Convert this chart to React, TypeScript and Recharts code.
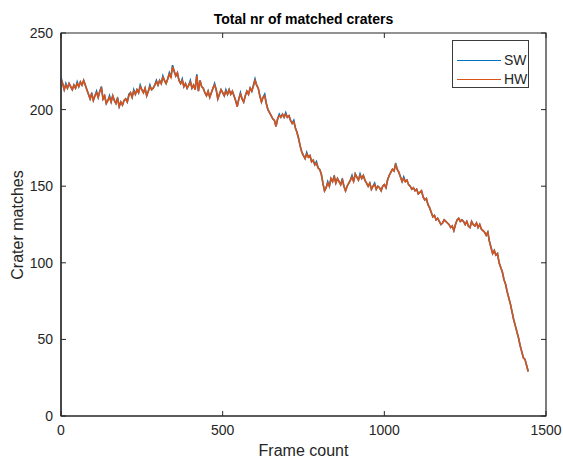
import { LineChart, Line, XAxis, YAxis, ReferenceArea } from "recharts";

// frame counts are sampled every 5 frames
const FRAME_STEP = 5;

const hwMatches = [
  220, 217, 213, 216, 214, 217, 215, 213, 216, 214, 217, 215, 218, 216, 219, 216, 213, 210, 207, 210,
  206, 209, 211, 208, 212, 214, 207, 209, 204, 206, 208, 205, 209, 206, 204, 207, 202, 205, 203, 206,
  207, 205, 209, 211, 208, 212, 210, 213, 211, 215, 213, 211, 214, 209, 212, 215, 213, 214, 216, 218,
  216, 219, 217, 221, 219, 217, 220, 223, 221, 228, 225, 222, 224, 219, 217, 219, 215, 217, 214, 216,
  218, 214, 216, 213, 222, 212, 219, 215, 214, 211, 209, 212, 208, 211, 214, 216, 213, 207, 210, 213,
  211, 209, 212, 210, 213, 210, 212, 209, 206, 202, 207, 210, 207, 205, 209, 212, 210, 214, 212, 215,
  219, 216, 214, 209, 205, 208, 209, 204, 200, 198, 196, 194, 193, 189, 194, 196, 195, 197, 195, 197,
  195, 196, 193, 191, 192, 188, 185, 181, 176, 172, 170, 168, 171, 169, 170, 166, 167, 164, 165, 162,
  161, 158, 152, 147, 149, 152, 150, 155, 153, 156, 152, 155, 153, 151, 154, 150, 147, 150, 152, 154,
  156, 153, 158, 156, 154, 157, 155, 157, 154, 152, 150, 152, 148, 150, 151, 148, 150, 149, 147, 150,
  151, 149, 154, 157, 159, 161, 160, 164, 161, 159, 156, 153, 155, 153, 154, 151, 150, 148, 149, 147,
  148, 145, 146, 147, 143, 141, 142, 138, 136, 133, 130, 131, 128, 129, 127, 125, 126, 128, 127, 126,
  125, 123, 124, 121, 125, 128, 129, 127, 128, 127, 125, 127, 124, 123, 127, 125, 124, 126, 123, 125,
  122, 121, 120, 118, 120, 114, 110, 106, 108, 105, 106, 100, 97, 94, 89, 86, 81, 77, 73, 68,
  63, 59, 55, 51, 46, 42, 38, 37, 33, 29,
];

const swMatches = [
  221, 217, 213, 217, 214, 217, 215, 213, 216, 214, 218, 215, 218, 216, 219, 216, 213, 210, 207, 211,
  206, 209, 212, 208, 212, 215, 207, 209, 204, 206, 209, 205, 209, 206, 204, 208, 202, 205, 203, 206,
  207, 205, 210, 211, 208, 213, 210, 213, 211, 216, 213, 211, 214, 209, 212, 216, 213, 214, 216, 219,
  216, 219, 217, 222, 219, 217, 220, 224, 221, 229, 225, 222, 224, 219, 217, 220, 215, 217, 214, 216,
  219, 214, 216, 213, 223, 212, 219, 215, 214, 211, 209, 212, 208, 211, 214, 217, 213, 207, 210, 213,
  211, 209, 213, 210, 213, 210, 212, 209, 206, 202, 207, 211, 207, 205, 209, 212, 210, 214, 212, 216,
  220, 216, 214, 209, 205, 208, 210, 204, 200, 198, 196, 194, 193, 189, 194, 197, 195, 197, 195, 198,
  195, 196, 193, 191, 193, 188, 185, 181, 176, 172, 170, 168, 172, 169, 170, 166, 167, 164, 166, 162,
  161, 158, 152, 147, 149, 153, 150, 155, 153, 157, 152, 155, 153, 151, 155, 150, 147, 150, 152, 154,
  157, 153, 158, 156, 154, 158, 155, 157, 154, 152, 150, 152, 148, 150, 152, 148, 150, 149, 147, 150,
  151, 149, 154, 157, 159, 161, 160, 165, 161, 159, 156, 153, 156, 153, 154, 151, 150, 148, 149, 147,
  148, 145, 146, 147, 143, 141, 142, 138, 136, 133, 130, 131, 128, 129, 127, 125, 126, 128, 127, 126,
  125, 123, 124, 121, 125, 128, 129, 127, 128, 127, 125, 127, 124, 123, 127, 125, 124, 126, 123, 125,
  122, 121, 120, 118, 120, 114, 110, 106, 108, 105, 106, 100, 97, 94, 89, 86, 81, 77, 73, 68,
  63, 59, 55, 51, 46, 42, 38, 37, 33, 29,
];

const xTicks = [0, 500, 1000, 1500];
const yTicks = [0, 50, 100, 150, 200, 250];

const data = hwMatches.map((hw, i) => ({ frame: i * FRAME_STEP, sw: swMatches[i], hw }));

const AXIS = "#262626";
const FONT = "'Liberation Sans', Arial, Helvetica, sans-serif";
const PLOT_W = 485;
const PLOT_H = 383;

// MATLAB-style ticks: drawn inward, mirrored on the opposite side of the box
function BottomTick({ x, y, payload }: any) {
  return (
    <g>
      <line x1={x} x2={x} y1={y} y2={y - 5} stroke={AXIS} />
      <line x1={x} x2={x} y1={y - PLOT_H} y2={y - PLOT_H + 5} stroke={AXIS} />
      <text x={x} y={y + 19} textAnchor="middle" fill={AXIS} fontSize={14} fontFamily={FONT}>
        {payload.value}
      </text>
    </g>
  );
}

function LeftTick({ x, y, payload }: any) {
  return (
    <g>
      <line x1={x} x2={x + 5} y1={y} y2={y} stroke={AXIS} />
      <line x1={x + PLOT_W} x2={x + PLOT_W - 5} y1={y} y2={y} stroke={AXIS} />
      <text x={x - 8} y={y + 5} textAnchor="end" fill={AXIS} fontSize={14} fontFamily={FONT}>
        {payload.value}
      </text>
    </g>
  );
}

export default function App() {
  return (
    <div style={{ position: "absolute", left: 0, top: 0, width: 563, height: 461, background: "#fff", fontFamily: FONT }}>
      <LineChart width={563} height={461} data={data} margin={{ top: 33, right: 17, bottom: 0, left: 0 }}>
        <XAxis
          xAxisId="bottom"
          dataKey="frame"
          type="number"
          domain={[0, 1500]}
          ticks={xTicks}
          height={45}
          tickSize={0}
          tickMargin={0}
          tickLine={false}
          axisLine={{ stroke: AXIS, strokeWidth: 1.2 }}
          tick={<BottomTick />}
          interval={0}
        />
        <YAxis
          yAxisId="left"
          type="number"
          domain={[0, 250]}
          ticks={yTicks}
          width={61}
          tickSize={0}
          tickMargin={0}
          tickLine={false}
          axisLine={{ stroke: AXIS, strokeWidth: 1.2 }}
          tick={<LeftTick />}
          interval={0}
        />
        <ReferenceArea
          xAxisId="bottom"
          yAxisId="left"
          x1={0}
          x2={1500}
          y1={0}
          y2={250}
          fill="none"
          stroke={AXIS}
          strokeWidth={1.2}
          ifOverflow="visible"
        />
        <Line
          xAxisId="bottom"
          yAxisId="left"
          type="linear"
          dataKey="sw"
          name="SW"
          stroke="#0072BD"
          strokeWidth={1.6}
          dot={false}
          isAnimationActive={false}
        />
        <Line
          xAxisId="bottom"
          yAxisId="left"
          type="linear"
          dataKey="hw"
          name="HW"
          stroke="#D95319"
          strokeWidth={1.6}
          dot={false}
          isAnimationActive={false}
        />
      </LineChart>

      <div style={{ position: "absolute", left: 61, width: 485, top: 11, textAlign: "center", fontSize: 14, fontWeight: "bold", lineHeight: "16px", color: "#000" }}>
        Total nr of matched craters
      </div>
      <div style={{ position: "absolute", left: 61, width: 485, top: 442, textAlign: "center", fontSize: 16, lineHeight: "18px", color: AXIS }}>
        Frame count
      </div>
      <div
        style={{
          position: "absolute",
          left: 18,
          top: 225,
          transform: "translate(-50%, -50%) rotate(-90deg)",
          whiteSpace: "nowrap",
          fontSize: 16,
          lineHeight: "18px",
          color: AXIS,
        }}
      >
        Crater matches
      </div>

      <div style={{ position: "absolute", left: 452, top: 40, width: 77, height: 48, border: "1px solid #3a3a3a", background: "#fff", boxSizing: "border-box" }}>
        {[
          { name: "SW", color: "#0072BD" },
          { name: "HW", color: "#D95319" },
        ].map((s, i) => (
          <div key={s.name} style={{ position: "absolute", left: 4, top: 11 + i * 19, display: "flex", alignItems: "center", height: 16 }}>
            <div style={{ width: 44, height: 1, background: s.color }} />
            <span style={{ marginLeft: 3, fontSize: 14, color: AXIS }}>{s.name}</span>
          </div>
        ))}
      </div>
    </div>
  );
}
